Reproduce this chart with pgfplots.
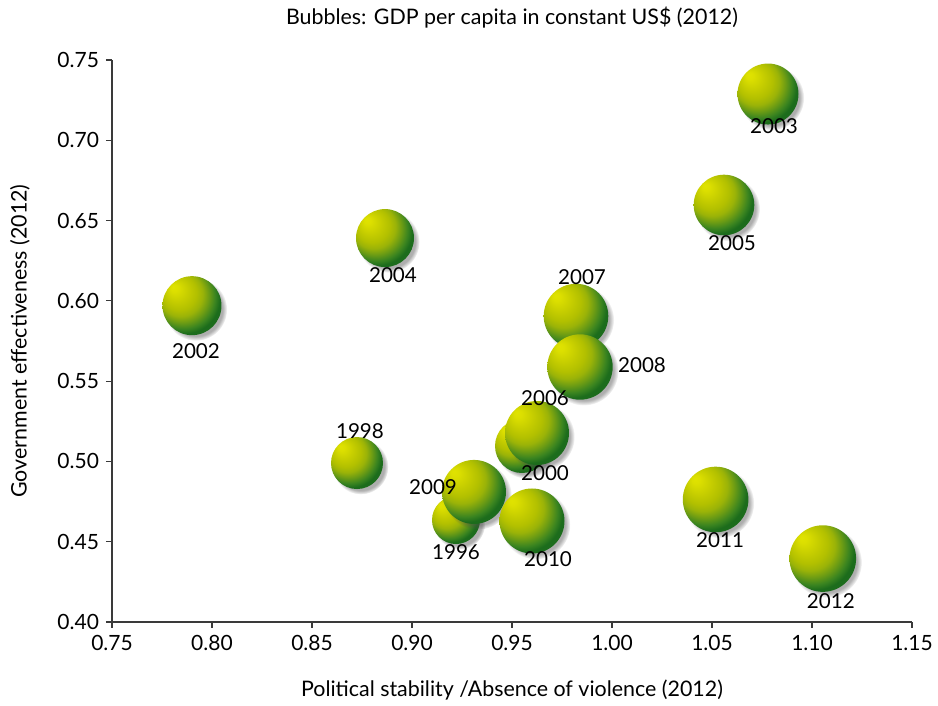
\documentclass[border=0pt]{standalone}
\usepackage{pgfplots}
\pgfplotsset{compat=1.18}
\usepackage{pgfplotstable}
\usetikzlibrary{shadows,fadings}
\usepackage{fontspec}
\setmainfont{Lato}
\definecolor{bhl}{HTML}{E0E300}
\definecolor{bm0}{HTML}{DCDF00}
\definecolor{bm1}{HTML}{C4CC00}
\definecolor{bm2}{HTML}{B2C000}
\definecolor{bm3}{HTML}{9AB308}
\definecolor{bm4}{HTML}{6C9C14}
\definecolor{bm5}{HTML}{3A8420}
\definecolor{bdk}{HTML}{1C6C1C}
\definecolor{axgray}{HTML}{3A3A3A}
\pgfdeclareradialshading{bub}{\pgfqpoint{-16bp}{16bp}}{%
 color(0bp)=(bhl); color(3bp)=(bm0); color(10bp)=(bm1); color(15bp)=(bm2); color(19bp)=(bm3); color(23bp)=(bm4); color(27bp)=(bm5); color(30bp)=(bdk); color(50bp)=(bdk)}

\pgfplotstableread{
x y r dx dy year
0.922 0.4635 24 0 -32 1996
0.8725 0.499 26 3 32 1998
0.955 0.5096 27 23 -27 2000
0.790 0.597 29.5 4 -45 2002
1.078 0.7288 30.5 6 -32 2003
0.8865 0.6391 29 8 -37 2004
1.056 0.6597 30.3 8 -38 2005
0.9625 0.5177 32 8 35 2006
0.982 0.5905 32.3 6 39 2007
0.984 0.5588 32.7 62 2 2008
0.931 0.481 32 -41 5 2009
0.960 0.4629 32.5 16 -38 2010
1.0518 0.4763 32.8 4.5 -40.5 2011
1.1054 0.4395 33.3 8 -42.5 2012
}\bubdata

\begin{document}
\begin{tikzpicture}
\useasboundingbox (-56pt,-42pt) rectangle (413pt,311pt);
\begin{axis}[
  scale only axis,
  width=400pt, height=281pt,
  at={(0,0)}, anchor=south west,
  xmin=0.75, xmax=1.15, ymin=0.40, ymax=0.75,
  xtick={0.75,0.80,...,1.151},
  ytick={0.40,0.45,...,0.751},
  axis x line*=bottom, axis y line*=left,
  axis line style={axgray, line width=0.6pt, -},
  tick style={axgray, line width=0.6pt},
  tick align=outside, major tick length=3pt,
  clip=false,
  /pgf/number format/assume math mode=true,
  xticklabel style={/pgf/number format/.cd, fixed, fixed zerofill, precision=2},
  yticklabel style={/pgf/number format/.cd, fixed, fixed zerofill, precision=2},
  ticklabel style={font=\fontsize{10.5}{12}\selectfont, text=black},
  title={Bubbles: GDP per capita in constant US\$ (2012)},
  title style={at={(axis description cs:0.5,1)}, anchor=center, yshift=15pt, font=\fontsize{10.7}{12}\selectfont},
  xlabel={Political stability /Absence of violence (2012)},
  xlabel style={at={(axis description cs:0.5,0)}, anchor=center, yshift=-34pt, font=\fontsize{10.7}{12}\selectfont},
  ylabel={Government effectiveness (2012)},
  ylabel style={at={(axis description cs:0,0.5)}, anchor=center, yshift=46pt, font=\fontsize{10.7}{12}\selectfont},
]
% bubbles
\addplot[draw=none, mark=none,
  visualization depends on={\thisrow{r} \as \rr},
  nodes near coords={},
  every node near coord/.append style={anchor=center, circle, inner sep=0pt,
     minimum size={(\rr)*1pt}, shading=bub,
     circular drop shadow={shadow xshift=1.8pt, shadow yshift=-1.8pt, shadow scale=1.06, opacity=0.45, fill=black!70}},
] table {\bubdata};
% labels
\addplot[draw=none, mark=none,
  point meta=explicit symbolic,
  visualization depends on={\thisrow{dx} \as \ldx},
  visualization depends on={\thisrow{dy} \as \ldy},
  nodes near coords,
  every node near coord/.append style={anchor=center, inner sep=0pt,
     xshift={(\ldx)*0.5pt}, yshift={(\ldy)*0.5pt},
     font=\fontsize{10.3}{12}\selectfont, text=black},
] table[meta=year] {\bubdata};
\end{axis}
\end{tikzpicture}
\end{document}
